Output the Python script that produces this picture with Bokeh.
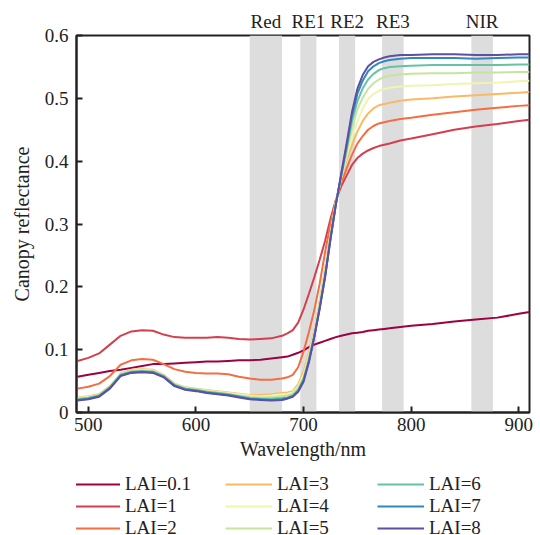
from bokeh.plotting import figure
from bokeh.models import Legend, LegendItem, LinearAxis, FixedTicker
from bokeh.layouts import column
from bokeh.embed import file_html
from bokeh.resources import INLINE

wavelength = [490, 500, 510, 520, 530, 540, 550, 560, 570, 580,
              590, 600, 610, 620, 630, 640, 650, 660, 670, 680,
              685, 690, 695, 700, 705, 710, 715, 720, 725, 730,
              735, 740, 745, 750, 755, 760, 765, 770, 775, 780,
              790, 800, 820, 840, 860, 880, 900, 910]

lai_0_1 = [0.057, 0.060, 0.063, 0.066, 0.068, 0.071, 0.074, 0.077, 0.077, 0.078,
           0.079, 0.080, 0.081, 0.081, 0.082, 0.083, 0.083, 0.084, 0.086, 0.088,
           0.089, 0.092, 0.095, 0.099, 0.104, 0.108, 0.111, 0.114, 0.117, 0.120,
           0.122, 0.124, 0.126, 0.127, 0.128, 0.130, 0.131, 0.132, 0.133, 0.134,
           0.136, 0.138, 0.141, 0.145, 0.148, 0.151, 0.157, 0.160]
lai_1 = [0.082, 0.087, 0.094, 0.108, 0.122, 0.129, 0.131, 0.130, 0.124, 0.120,
         0.119, 0.119, 0.119, 0.120, 0.119, 0.117, 0.116, 0.117, 0.118, 0.122,
         0.126, 0.131, 0.143, 0.164, 0.189, 0.215, 0.243, 0.273, 0.308, 0.338,
         0.360, 0.377, 0.394, 0.405, 0.412, 0.417, 0.421, 0.424, 0.426, 0.428,
         0.433, 0.436, 0.443, 0.450, 0.455, 0.459, 0.464, 0.466]
lai_2 = [0.038, 0.041, 0.046, 0.058, 0.076, 0.083, 0.085, 0.084, 0.077, 0.069,
         0.065, 0.063, 0.062, 0.062, 0.061, 0.057, 0.054, 0.052, 0.052, 0.054,
         0.056, 0.060, 0.072, 0.097, 0.128, 0.163, 0.205, 0.255, 0.300, 0.337,
         0.365, 0.388, 0.410, 0.428, 0.440, 0.450, 0.456, 0.460, 0.462, 0.464,
         0.467, 0.469, 0.474, 0.478, 0.482, 0.485, 0.488, 0.489]
lai_3 = [0.024, 0.026, 0.029, 0.042, 0.062, 0.068, 0.069, 0.068, 0.060, 0.046,
         0.040, 0.038, 0.036, 0.034, 0.032, 0.030, 0.028, 0.028, 0.029, 0.031,
         0.032, 0.034, 0.045, 0.065, 0.095, 0.130, 0.178, 0.228, 0.285, 0.335,
         0.372, 0.402, 0.425, 0.447, 0.464, 0.476, 0.484, 0.489, 0.491, 0.493,
         0.496, 0.498, 0.500, 0.503, 0.505, 0.507, 0.509, 0.510]
lai_4 = [0.023, 0.025, 0.028, 0.041, 0.061, 0.067, 0.068, 0.067, 0.059, 0.045,
         0.039, 0.037, 0.035, 0.033, 0.031, 0.029, 0.027, 0.026, 0.027, 0.029,
         0.030, 0.032, 0.042, 0.060, 0.091, 0.127, 0.174, 0.224, 0.282, 0.334,
         0.374, 0.407, 0.438, 0.463, 0.484, 0.499, 0.507, 0.512, 0.515, 0.517,
         0.519, 0.520, 0.521, 0.523, 0.524, 0.525, 0.527, 0.528]
lai_5 = [0.022, 0.024, 0.028, 0.041, 0.061, 0.066, 0.067, 0.066, 0.059, 0.045,
         0.039, 0.037, 0.034, 0.032, 0.030, 0.027, 0.025, 0.024, 0.024, 0.026,
         0.027, 0.030, 0.039, 0.056, 0.088, 0.125, 0.171, 0.221, 0.279, 0.333,
         0.375, 0.412, 0.453, 0.482, 0.501, 0.515, 0.524, 0.530, 0.534, 0.536,
         0.538, 0.539, 0.540, 0.540, 0.541, 0.541, 0.542, 0.542]
lai_6 = [0.021, 0.023, 0.027, 0.040, 0.060, 0.065, 0.066, 0.065, 0.058, 0.044,
         0.038, 0.036, 0.033, 0.031, 0.029, 0.026, 0.023, 0.022, 0.022, 0.023,
         0.024, 0.027, 0.036, 0.053, 0.084, 0.122, 0.168, 0.218, 0.277, 0.332,
         0.376, 0.418, 0.464, 0.495, 0.516, 0.530, 0.539, 0.545, 0.548, 0.550,
         0.551, 0.552, 0.553, 0.553, 0.553, 0.553, 0.554, 0.554]
lai_7 = [0.020, 0.022, 0.026, 0.039, 0.059, 0.064, 0.065, 0.064, 0.057, 0.043,
         0.037, 0.035, 0.032, 0.030, 0.028, 0.025, 0.022, 0.021, 0.020, 0.021,
         0.023, 0.026, 0.034, 0.051, 0.082, 0.121, 0.166, 0.216, 0.276, 0.331,
         0.378, 0.424, 0.472, 0.507, 0.528, 0.543, 0.551, 0.556, 0.559, 0.561,
         0.563, 0.564, 0.564, 0.564, 0.563, 0.564, 0.565, 0.565]
lai_8 = [0.019, 0.021, 0.025, 0.038, 0.058, 0.063, 0.064, 0.063, 0.056, 0.042,
         0.036, 0.034, 0.031, 0.029, 0.027, 0.024, 0.021, 0.020, 0.019, 0.020,
         0.022, 0.025, 0.033, 0.049, 0.080, 0.120, 0.165, 0.215, 0.275, 0.330,
         0.380, 0.428, 0.478, 0.515, 0.537, 0.551, 0.558, 0.562, 0.565, 0.567,
         0.569, 0.569, 0.570, 0.570, 0.569, 0.569, 0.570, 0.570]

series = [lai_0_1, lai_1, lai_2, lai_3, lai_4, lai_5, lai_6, lai_7, lai_8]
series_labels = ["LAI=0.1", "LAI=1", "LAI=2", "LAI=3", "LAI=4",
                 "LAI=5", "LAI=6", "LAI=7", "LAI=8"]
series_colors = ["#9e0142", "#d53e4f", "#f46d43", "#fdb863", "#f0f5ae",
                 "#c5e59c", "#66c2a5", "#3288bd", "#5e4fa2"]

band_names = ["Red", "RE1", "RE2", "RE3", "NIR"]
band_left = [650, 697, 733, 773, 856]
band_right = [680, 712, 748, 793, 876]

x_ticks = [500, 600, 700, 800, 900]
y_ticks = [0, 0.1, 0.2, 0.3, 0.4, 0.5, 0.6]
y_tick_labels = ["0", "0.1", "0.2", "0.3", "0.4", "0.5", "0.6"]

FONT = "Liberation Serif"
TXT = "#222222"

p = figure(width=540, height=470, x_range=(489, 910), y_range=(0, 0.6),
           output_backend="svg", toolbar_location=None,
           min_border_left=76, min_border_right=11,
           min_border_top=35, min_border_bottom=58)
xax = p.xaxis[0]
yax = p.yaxis[0]

p.quad(left=band_left, right=band_right, bottom=0, top=0.6,
       fill_color="#dddddd", line_color=None)

renderers = []
for vals, col in zip(series, series_colors):
    r = p.line(wavelength, vals, line_color=col, line_width=2)
    renderers.append(r)

p.xgrid.visible = False
p.ygrid.visible = False
p.outline_line_color = "#222222"
p.outline_line_width = 2

for ax in (xax, yax):
    ax.axis_line_width = 2
    ax.axis_line_color = "#222222"
    ax.major_tick_line_width = 2
    ax.major_tick_line_color = "#222222"
    ax.major_tick_in = 6
    ax.major_tick_out = 0
    ax.minor_tick_line_color = None
    ax.major_label_text_font = FONT
    ax.major_label_text_font_size = "19px"
    ax.major_label_text_color = TXT
    ax.axis_label_text_font = FONT
    ax.axis_label_text_font_size = "20px"
    ax.axis_label_text_font_style = "normal"
    ax.axis_label_text_color = TXT

xax.ticker = FixedTicker(ticks=x_ticks)
yax.ticker = FixedTicker(ticks=y_ticks)
yax.major_label_overrides = {t: s for t, s in zip(y_ticks, y_tick_labels)}
xax.axis_label = "Wavelength/nm"
yax.axis_label = "Canopy reflectance"
xax.major_label_standoff = 5
xax.axis_label_standoff = 4
yax.major_label_standoff = 8
yax.axis_label_standoff = 9

# band names as a tick-less axis above the frame
band_centers = [(l + r) / 2 for l, r in zip(band_left, band_right)]
top_axis = LinearAxis(ticker=FixedTicker(ticks=band_centers),
                      major_label_overrides={c: n for c, n in zip(band_centers, band_names)},
                      axis_line_color=None, major_tick_line_color=None,
                      minor_tick_line_color=None, major_tick_in=0, major_tick_out=0,
                      major_label_standoff=4,
                      major_label_text_font=FONT, major_label_text_font_size="19px",
                      major_label_text_color=TXT)
p.add_layout(top_axis, "above")

# legend strip below the chart (3 columns, filled column by column);
# its lines carry the same data but lie outside this strip's ranges
lf = figure(width=540, height=65, output_backend="svg", toolbar_location=None,
            x_axis_type=None, y_axis_type=None,
            min_border_left=76, min_border_right=11, min_border_top=0, min_border_bottom=0,
            x_range=(0, 1), y_range=(0, 1))
lf.outline_line_color = None
lf.xgrid.visible = False
lf.ygrid.visible = False
legend_renderers = [lf.line(wavelength, vals, line_color=c, line_width=2)
                    for vals, c in zip(series, series_colors)]
order = [0, 3, 6, 1, 4, 7, 2, 5, 8]
legend = Legend(items=[LegendItem(label=series_labels[i], renderers=[legend_renderers[i]])
                       for i in order],
                location=(-3, -4), orientation="horizontal", ncols=3,
                glyph_width=47, glyph_height=20, label_standoff=5,
                label_width=100, label_height=20, spacing=0, padding=0, margin=0,
                border_line_color=None, background_fill_alpha=0,
                label_text_font=FONT, label_text_font_size="19px",
                label_text_color=TXT)
lf.add_layout(legend)

layout = column(p, lf, spacing=0)
open("out.html", "w").write(file_html(layout, INLINE))
